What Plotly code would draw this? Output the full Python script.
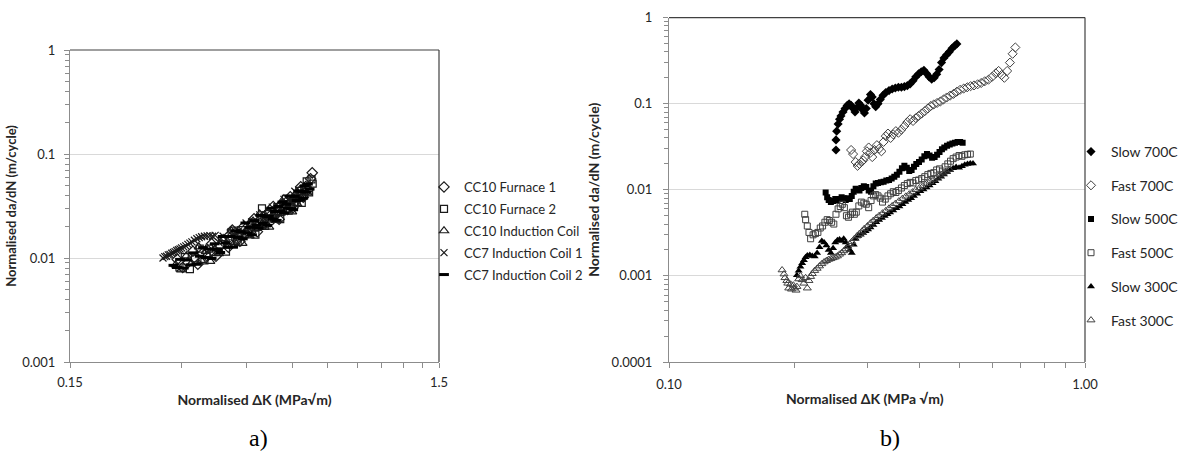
import math
import plotly.graph_objects as go

# ---------------- Panel a) data ----------------
a_names = ["CC10 Furnace 1", "CC10 Furnace 2", "CC10 Induction Coil",
           "CC7 Induction Coil 1", "CC7 Induction Coil 2"]

a_f1_x = [0.293, 0.303, 0.313, 0.323, 0.333, 0.343, 0.353, 0.363, 0.373, 0.383, 0.393, 0.403, 0.413,
          0.423, 0.433, 0.443, 0.453, 0.463, 0.473, 0.483, 0.493, 0.503, 0.513, 0.523, 0.533, 0.543,
          0.553, 0.563, 0.573, 0.583, 0.593, 0.603, 0.613, 0.623, 0.633, 0.643, 0.653, 0.663, 0.673,
          0.680]
a_f1_y = [0.0097, 0.0081, 0.0090, 0.0116, 0.0087, 0.0111, 0.0104, 0.0137, 0.0104, 0.0131, 0.0149, 0.0127,
          0.0186, 0.0151, 0.0145, 0.0200, 0.0182, 0.0178, 0.0238, 0.0179, 0.0233, 0.0216, 0.0266, 0.0223,
          0.0312, 0.0261, 0.0236, 0.0326, 0.0309, 0.0293, 0.0388, 0.0304, 0.0385, 0.0375, 0.0483, 0.0384,
          0.0487, 0.0455, 0.0579, 0.0659]

a_f2_x = [0.297, 0.307, 0.317, 0.327, 0.337, 0.347, 0.357, 0.367, 0.377, 0.387, 0.397, 0.407, 0.417,
          0.427, 0.437, 0.447, 0.457, 0.467, 0.477, 0.487, 0.497, 0.507, 0.517, 0.527, 0.537, 0.547,
          0.557, 0.567, 0.577, 0.587, 0.597, 0.607, 0.617, 0.627, 0.637, 0.647, 0.657, 0.667, 0.677,
          0.682]
a_f2_y = [0.0081, 0.0102, 0.0078, 0.0099, 0.0123, 0.0095, 0.0123, 0.0114, 0.0116, 0.0149, 0.0115, 0.0147,
          0.0183, 0.0142, 0.0185, 0.0170, 0.0172, 0.0220, 0.0168, 0.0214, 0.0300, 0.0204, 0.0264, 0.0241,
          0.0244, 0.0309, 0.0236, 0.0301, 0.0371, 0.0285, 0.0370, 0.0342, 0.0347, 0.0442, 0.0339, 0.0436,
          0.0545, 0.0427, 0.0570, 0.0518]

a_ic_x = [0.290, 0.300, 0.310, 0.320, 0.335, 0.340, 0.350, 0.360, 0.370, 0.380, 0.390, 0.400, 0.410,
          0.420, 0.430, 0.440, 0.450, 0.460, 0.470, 0.480, 0.490, 0.500, 0.510, 0.520, 0.530, 0.540,
          0.550, 0.560, 0.570, 0.580, 0.590, 0.600, 0.610, 0.620, 0.630, 0.640, 0.650, 0.660]
a_ic_y = [0.0086, 0.0077, 0.0105, 0.0089, 0.0128, 0.0095, 0.0116, 0.0093, 0.0122, 0.0110, 0.0154, 0.0132,
          0.0182, 0.0141, 0.0173, 0.0138, 0.0181, 0.0163, 0.0227, 0.0193, 0.0265, 0.0204, 0.0249, 0.0198,
          0.0257, 0.0230, 0.0319, 0.0272, 0.0372, 0.0286, 0.0350, 0.0278, 0.0365, 0.0329, 0.0456, 0.0391,
          0.0443, 0.0423]

a_c1_x = [0.268, 0.271, 0.274, 0.277, 0.280, 0.283, 0.286, 0.289, 0.292, 0.295, 0.298, 0.301, 0.305,
          0.309, 0.313, 0.317, 0.321, 0.326, 0.331, 0.336, 0.341, 0.347, 0.353, 0.359, 0.365, 0.371,
          0.380, 0.390, 0.400, 0.410, 0.420, 0.430, 0.440, 0.450, 0.460, 0.470, 0.480, 0.490, 0.500,
          0.510, 0.520, 0.530, 0.540, 0.550, 0.560, 0.570, 0.580, 0.590, 0.600, 0.610, 0.620, 0.630,
          0.640]
a_c1_y = [0.0100, 0.0103, 0.0104, 0.0107, 0.0108, 0.0111, 0.0113, 0.0115, 0.0118, 0.0120, 0.0122, 0.0125,
          0.0128, 0.0131, 0.0135, 0.0139, 0.0143, 0.0148, 0.0153, 0.0157, 0.0160, 0.0162, 0.0163, 0.0164,
          0.0162, 0.0165, 0.0141, 0.0162, 0.0135, 0.0179, 0.0157, 0.0182, 0.0164, 0.0217, 0.0190, 0.0219,
          0.0198, 0.0260, 0.0227, 0.0261, 0.0235, 0.0308, 0.0268, 0.0308, 0.0277, 0.0366, 0.0318, 0.0366,
          0.0331, 0.0438, 0.0382, 0.0440, 0.0399]

a_c2_x = [0.286, 0.292, 0.298, 0.305, 0.311, 0.318, 0.324, 0.331, 0.337, 0.344, 0.350, 0.357, 0.363,
          0.370, 0.376, 0.383, 0.389, 0.396, 0.402, 0.409, 0.415, 0.422, 0.428, 0.435, 0.441, 0.448,
          0.454, 0.461, 0.467, 0.474, 0.480, 0.487, 0.493, 0.500, 0.506, 0.513, 0.519, 0.526, 0.532,
          0.539, 0.545, 0.552, 0.558, 0.565, 0.571, 0.578, 0.584, 0.591, 0.597, 0.604, 0.610, 0.617,
          0.623, 0.630, 0.636, 0.643, 0.649, 0.656, 0.662, 0.669]
a_c2_y = [0.0085, 0.0081, 0.0097, 0.0080, 0.0096, 0.0086, 0.0112, 0.0087, 0.0104, 0.0126, 0.0101, 0.0122,
          0.0099, 0.0137, 0.0121, 0.0113, 0.0161, 0.0140, 0.0127, 0.0161, 0.0127, 0.0183, 0.0158, 0.0179,
          0.0153, 0.0217, 0.0174, 0.0197, 0.0167, 0.0229, 0.0206, 0.0193, 0.0257, 0.0216, 0.0252, 0.0206,
          0.0251, 0.0301, 0.0236, 0.0280, 0.0230, 0.0313, 0.0281, 0.0346, 0.0272, 0.0328, 0.0301, 0.0394,
          0.0299, 0.0291, 0.0391, 0.0358, 0.0441, 0.0360, 0.0437, 0.0376, 0.0494, 0.0431, 0.0514, 0.0460]

# ---------------- Panel b) data ----------------
b_names = ["Slow 700C", "Fast 700C", "Slow 500C", "Fast 500C", "Slow 300C", "Fast 300C"]

s700_x = [0.252, 0.252, 0.253, 0.255, 0.257, 0.259, 0.262, 0.265, 0.268, 0.271, 0.274, 0.277, 0.280,
          0.283, 0.286, 0.289, 0.292, 0.295, 0.298, 0.301, 0.305, 0.308, 0.311, 0.314, 0.318, 0.322,
          0.327, 0.332, 0.338, 0.344, 0.350, 0.356, 0.362, 0.368, 0.374, 0.380, 0.386, 0.392, 0.398,
          0.404, 0.410, 0.416, 0.422, 0.428, 0.434, 0.440, 0.446, 0.452, 0.458, 0.465, 0.472, 0.479,
          0.486, 0.492]
s700_y = [0.029, 0.038, 0.048, 0.058, 0.066, 0.072, 0.080, 0.088, 0.095, 0.100, 0.096, 0.088, 0.080,
          0.090, 0.102, 0.096, 0.085, 0.078, 0.088, 0.110, 0.128, 0.120, 0.100, 0.092, 0.100, 0.112,
          0.125, 0.135, 0.142, 0.148, 0.152, 0.155, 0.155, 0.158, 0.162, 0.170, 0.185, 0.205, 0.222,
          0.235, 0.245, 0.225, 0.205, 0.192, 0.200, 0.220, 0.250, 0.300, 0.340, 0.370, 0.400, 0.440,
          0.470, 0.495]

f700_x = [0.274, 0.277, 0.281, 0.284, 0.287, 0.290, 0.293, 0.296, 0.299, 0.302, 0.305, 0.308, 0.312,
          0.316, 0.320, 0.324, 0.328, 0.332, 0.336, 0.341, 0.346, 0.351, 0.356, 0.362, 0.368, 0.374,
          0.380, 0.386, 0.392, 0.398, 0.405, 0.412, 0.419, 0.426, 0.433, 0.441, 0.449, 0.457, 0.465,
          0.474, 0.483, 0.492, 0.501, 0.511, 0.521, 0.531, 0.541, 0.552, 0.563, 0.574, 0.586, 0.598,
          0.610, 0.620, 0.630, 0.640, 0.650, 0.660, 0.670, 0.680]
f700_y = [0.029, 0.026, 0.021, 0.019, 0.020, 0.021, 0.022, 0.024, 0.028, 0.031, 0.027, 0.024, 0.029,
          0.033, 0.030, 0.028, 0.036, 0.042, 0.045, 0.040, 0.044, 0.048, 0.046, 0.050, 0.055, 0.061,
          0.066, 0.063, 0.068, 0.072, 0.077, 0.082, 0.088, 0.094, 0.098, 0.102, 0.106, 0.112, 0.118,
          0.124, 0.130, 0.138, 0.145, 0.150, 0.155, 0.160, 0.163, 0.168, 0.174, 0.182, 0.190, 0.205,
          0.225, 0.240, 0.215, 0.200, 0.240, 0.300, 0.380, 0.450]

s500_x = [0.238, 0.240, 0.242, 0.245, 0.248, 0.251, 0.254, 0.257, 0.260, 0.263, 0.266, 0.269, 0.272,
          0.275, 0.278, 0.281, 0.284, 0.287, 0.290, 0.294, 0.298, 0.302, 0.306, 0.310, 0.314, 0.318,
          0.323, 0.328, 0.333, 0.338, 0.343, 0.348, 0.353, 0.358, 0.363, 0.368, 0.373, 0.378, 0.383,
          0.388, 0.393, 0.399, 0.405, 0.411, 0.417, 0.423, 0.429, 0.435, 0.441, 0.447, 0.453, 0.459,
          0.466, 0.473, 0.480, 0.487, 0.494, 0.501, 0.508]
s500_y = [0.0093, 0.0082, 0.0076, 0.0072, 0.0074, 0.0078, 0.0075, 0.0078, 0.0082, 0.0080, 0.0076, 0.0080,
          0.0078, 0.0085, 0.0095, 0.0103, 0.0100, 0.0098, 0.0105, 0.0110, 0.0108, 0.0098, 0.0095, 0.0110,
          0.0118, 0.0120, 0.0122, 0.0124, 0.0128, 0.0130, 0.0135, 0.0142, 0.0150, 0.0162, 0.0178, 0.0190,
          0.0180, 0.0165, 0.0170, 0.0185, 0.0200, 0.0210, 0.0225, 0.0245, 0.0260, 0.0250, 0.0235, 0.0240,
          0.0255, 0.0275, 0.0295, 0.0310, 0.0325, 0.0335, 0.0345, 0.0352, 0.0358, 0.0358, 0.0352]

f500_x = [0.212, 0.213, 0.215, 0.217, 0.219, 0.222, 0.225, 0.228, 0.231, 0.234, 0.237, 0.240, 0.243,
          0.246, 0.249, 0.252, 0.255, 0.258, 0.261, 0.264, 0.267, 0.270, 0.273, 0.276, 0.279, 0.282,
          0.286, 0.290, 0.294, 0.298, 0.302, 0.306, 0.310, 0.314, 0.318, 0.322, 0.326, 0.331, 0.336,
          0.341, 0.346, 0.351, 0.356, 0.362, 0.368, 0.374, 0.380, 0.386, 0.392, 0.398, 0.405, 0.412,
          0.419, 0.426, 0.433, 0.440, 0.447, 0.454, 0.461, 0.468, 0.475, 0.482, 0.490, 0.498, 0.506,
          0.514, 0.522, 0.530]
f500_y = [0.0052, 0.0045, 0.0038, 0.0032, 0.0027, 0.0030, 0.0031, 0.0032, 0.0036, 0.0038, 0.0042, 0.0045,
          0.0044, 0.0042, 0.0040, 0.0052, 0.0060, 0.0064, 0.0068, 0.0062, 0.0050, 0.0048, 0.0052, 0.0055,
          0.0052, 0.0055, 0.0065, 0.0072, 0.0070, 0.0068, 0.0062, 0.0075, 0.0085, 0.0088, 0.0085, 0.0080,
          0.0072, 0.0078, 0.0085, 0.0090, 0.0095, 0.0093, 0.0098, 0.0105, 0.0112, 0.0118, 0.0122, 0.0120,
          0.0128, 0.0130, 0.0135, 0.0142, 0.0150, 0.0155, 0.0158, 0.0170, 0.0175, 0.0165, 0.0185, 0.0200,
          0.0215, 0.0230, 0.0240, 0.0250, 0.0245, 0.0255, 0.0258, 0.0260]

s300_x = [0.203, 0.205, 0.207, 0.209, 0.211, 0.213, 0.215, 0.218, 0.221, 0.224, 0.227, 0.230, 0.233,
          0.236, 0.239, 0.242, 0.245, 0.248, 0.251, 0.254, 0.257, 0.260, 0.263, 0.266, 0.269, 0.272,
          0.275, 0.278, 0.281, 0.285, 0.289, 0.293, 0.297, 0.301, 0.305, 0.310, 0.315, 0.320, 0.325,
          0.330, 0.335, 0.340, 0.346, 0.352, 0.358, 0.364, 0.370, 0.376, 0.382, 0.388, 0.395, 0.402,
          0.409, 0.416, 0.423, 0.430, 0.437, 0.444, 0.451, 0.458, 0.466, 0.474, 0.482, 0.490, 0.498,
          0.506, 0.514, 0.522, 0.530, 0.538]
s300_y = [0.00102, 0.00115, 0.00128, 0.00140, 0.00152, 0.00165, 0.00172, 0.00175, 0.00170, 0.00168,
          0.00185, 0.00215, 0.00255, 0.00245, 0.00225, 0.00200, 0.00185, 0.00210, 0.00245, 0.00260,
          0.00265, 0.00255, 0.00270, 0.00245, 0.00220, 0.00200, 0.00185, 0.00230, 0.00270, 0.00290,
          0.00300, 0.00315, 0.00330, 0.00345, 0.00365, 0.00390, 0.00420, 0.00445, 0.00470, 0.00495,
          0.00520, 0.00545, 0.00575, 0.00610, 0.00640, 0.00680, 0.00720, 0.00760, 0.00800, 0.00850,
          0.00900, 0.00960, 0.01010, 0.01060, 0.01120, 0.01190, 0.01260, 0.01340, 0.01420, 0.01510,
          0.01600, 0.01690, 0.01780, 0.01840, 0.01800, 0.01880, 0.01950, 0.02000, 0.02020, 0.02020]

f300_x = [0.187, 0.189, 0.190, 0.192, 0.193, 0.194, 0.196, 0.197, 0.199, 0.200, 0.202, 0.203, 0.205,
          0.207, 0.209, 0.211, 0.213, 0.215, 0.217, 0.219, 0.221, 0.224, 0.227, 0.230, 0.233, 0.236,
          0.239, 0.242, 0.245, 0.248, 0.251, 0.254, 0.257, 0.260, 0.263, 0.266, 0.269, 0.272, 0.275,
          0.279, 0.283, 0.287, 0.291, 0.295, 0.300, 0.305, 0.310, 0.315, 0.320, 0.326, 0.332, 0.338,
          0.344, 0.350, 0.357, 0.364, 0.371, 0.378, 0.385, 0.392, 0.400, 0.408, 0.416, 0.424, 0.432,
          0.440, 0.448, 0.456, 0.464, 0.472]
f300_y = [0.00117, 0.00105, 0.00095, 0.00088, 0.00082, 0.00072, 0.00080, 0.00070, 0.00078, 0.00072,
          0.00068, 0.00075, 0.00092, 0.00100, 0.00090, 0.00082, 0.00095, 0.00072, 0.00088, 0.00098,
          0.00106, 0.00115, 0.00122, 0.00130, 0.00138, 0.00145, 0.00150, 0.00155, 0.00158, 0.00162,
          0.00165, 0.00170, 0.00178, 0.00185, 0.00195, 0.00205, 0.00220, 0.00235, 0.00250, 0.00270,
          0.00290, 0.00310, 0.00330, 0.00355, 0.00380, 0.00410, 0.00440, 0.00470, 0.00500, 0.00535,
          0.00570, 0.00610, 0.00650, 0.00690, 0.00740, 0.00790, 0.00840, 0.00890, 0.00940, 0.01000,
          0.01050, 0.01110, 0.01180, 0.01250, 0.01320, 0.01400, 0.01480, 0.01560, 0.01640, 0.01720]

# tick labels
a_xticks = [0.15, 1.5]
a_xticktext = ["0.15", "1.5"]
a_yticks = [0.001, 0.01, 0.1, 1]
a_yticktext = ["0.001", "0.01", "0.1", "1"]
b_xticks = [0.1, 1.0]
b_xticktext = ["0.10", "1.00"]
b_yticks = [0.0001, 0.001, 0.01, 0.1, 1]
b_yticktext = ["0.0001", "0.001", "0.01", "0.1", "1"]

# ---------------- Figure ----------------
W, H = 1184, 459
FONT = "Lato, 'Open Sans', 'Liberation Sans', sans-serif"
AXC = "#8c8c8c"
TXT = "#262626"


def px_x(p):
    return p / W


def px_y(p):
    return 1 - p / H


fig = go.Figure()

OC = "#1a1a1a"
a_series = [
    (a_f1_x, a_f1_y, dict(symbol="diamond-open", size=8, color=OC, line=dict(width=1.2, color=OC))),
    (a_f2_x, a_f2_y, dict(symbol="square-open", size=7, color=OC, line=dict(width=1.2, color=OC))),
    (a_ic_x, a_ic_y, dict(symbol="triangle-up-open", size=8, color=OC, line=dict(width=1.2, color=OC))),
    (a_c1_x, a_c1_y, dict(symbol="x-thin-open", size=7, color=OC, line=dict(width=1.2, color=OC))),
    (a_c2_x, a_c2_y, dict(symbol="line-ew", size=7, color="black", line=dict(width=3, color="black"))),
]
for i, (xs, ys, mk) in enumerate(a_series):
    fig.add_trace(go.Scatter(x=xs, y=ys, mode="markers", name=a_names[i], marker=mk,
                             xaxis="x", yaxis="y", legend="legend", legendgroup="a%d" % i))

b_series = [
    (s700_x, s700_y, dict(symbol="diamond", size=7, color="black")),
    (f700_x, f700_y, dict(symbol="diamond-open", size=7, color="#404040", line=dict(width=1, color="#404040"))),
    (s500_x, s500_y, dict(symbol="square", size=6, color="black")),
    (f500_x, f500_y, dict(symbol="square-open", size=6, color="#404040", line=dict(width=1, color="#404040"))),
    (s300_x, s300_y, dict(symbol="triangle-up", size=7, color="black")),
    (f300_x, f300_y, dict(symbol="triangle-up-open", size=7, color="#404040", line=dict(width=1, color="#404040"))),
]
for i, (xs, ys, mk) in enumerate(b_series):
    fig.add_trace(go.Scatter(x=xs, y=ys, mode="markers", name=b_names[i], marker=mk,
                             xaxis="x2", yaxis="y2", legend="legend2", legendgroup="b%d" % i))


def minor_vals(lo_exp, hi_exp):
    vals = []
    for e in range(lo_exp, hi_exp):
        for m in range(2, 10):
            vals.append(m * 10 ** e)
    return vals


common_axis = dict(type="log", showline=True, linecolor=AXC, linewidth=1, ticks="outside",
                   ticklen=5, tickcolor=AXC, tickfont=dict(family=FONT, size=13, color=TXT),
                   zeroline=False, fixedrange=True, automargin=False)

fig.update_layout(
    width=W, height=H,
    margin=dict(l=0, r=0, t=0, b=0, autoexpand=False),
    paper_bgcolor="white", plot_bgcolor="white",
    font=dict(family=FONT, color=TXT),
    xaxis=dict(common_axis, domain=[px_x(70), px_x(439)], anchor="y",
               range=[math.log10(0.15), math.log10(1.5)],
               tickmode="array", tickvals=a_xticks, ticktext=a_xticktext, showgrid=False,
               ticklabelstandoff=3,
               minor=dict(tickmode="array", tickvals=[0.3, 0.45, 0.6, 0.75, 0.9, 1.05, 1.2, 1.35],
                          ticks="outside", ticklen=5, tickcolor=AXC, showgrid=False),
               title=dict(text="<b>Normalised ΔK (MPa√m)</b>", font=dict(family=FONT, size=14, color=TXT),
                          standoff=6)),
    yaxis=dict(common_axis, domain=[px_y(362), px_y(50)], anchor="x",
               range=[-3, 0], tickmode="array", tickvals=a_yticks, ticktext=a_yticktext,
               showgrid=True, gridcolor="#d9d9d9", gridwidth=1, ticklabelstandoff=6,
               minor=dict(tickmode="array", tickvals=minor_vals(-3, 0), ticks="outside",
                          ticklen=4, tickcolor=AXC, showgrid=False),
               title=dict(text="<b>Normalised da/dN (m/cycle)</b>", font=dict(family=FONT, size=13, color=TXT),
                          standoff=2)),
    xaxis2=dict(common_axis, domain=[px_x(669), px_x(1085)], anchor="y2",
                range=[-1, 0], tickmode="array", tickvals=b_xticks, ticktext=b_xticktext, showgrid=False,
                ticklabelstandoff=5,
                minor=dict(tickmode="array", tickvals=[0.2, 0.3, 0.4, 0.5, 0.6, 0.7, 0.8, 0.9],
                           ticks="outside", ticklen=5, tickcolor=AXC, showgrid=False)),
    yaxis2=dict(common_axis, domain=[px_y(362), px_y(17.6)], anchor="x2",
                range=[-4, 0], tickmode="array", tickvals=b_yticks, ticktext=b_yticktext,
                showgrid=True, gridcolor="#d9d9d9", gridwidth=1, ticklabelstandoff=8,
                minor=dict(tickmode="array", tickvals=minor_vals(-4, 0), ticks="outside",
                           ticklen=4, tickcolor=AXC, showgrid=False),
                title=dict(text="<b>Normalised da/dN (m/cycle)</b>", font=dict(family=FONT, size=14, color=TXT),
                           standoff=8)),
    legend=dict(x=px_x(424), y=px_y(172), xanchor="left", yanchor="top",
                font=dict(family=FONT, size=13, color=TXT), bgcolor="rgba(0,0,0,0)",
                traceorder="grouped", tracegroupgap=2, itemwidth=30, borderwidth=0),
    legend2=dict(x=px_x(1071), y=px_y(136), xanchor="left", yanchor="top",
                 font=dict(family=FONT, size=14, color=TXT), bgcolor="rgba(0,0,0,0)",
                 traceorder="grouped", tracegroupgap=12.5, itemwidth=30, borderwidth=0),
    showlegend=True,
)

# x-axis title of panel b (centred on the chart area, slightly left of the plot centre)
fig.add_annotation(x=px_x(865), y=px_y(398), xref="paper", yref="paper",
                   text="<b>Normalised ΔK (MPa √m)</b>", showarrow=False,
                   xanchor="center", yanchor="middle", font=dict(family=FONT, size=14, color=TXT))

# dark top & right frame lines
for xa, ya in (("x", "y"), ("x2", "y2")):
    fig.add_shape(type="line", xref=xa + " domain", yref=ya + " domain", x0=0, x1=1, y0=1, y1=1,
                  line=dict(color="#404040", width=1.2))
    fig.add_shape(type="line", xref=xa + " domain", yref=ya + " domain", x0=1, x1=1, y0=0, y1=1,
                  line=dict(color="#404040", width=1.2))

# captions
fig.add_annotation(x=px_x(258), y=px_y(438), xref="paper", yref="paper", text="a)", showarrow=False,
                   xanchor="center", yanchor="middle",
                   font=dict(family="Liberation Serif, serif", size=24, color="black"))
fig.add_annotation(x=px_x(890), y=px_y(438), xref="paper", yref="paper", text="b)", showarrow=False,
                   xanchor="center", yanchor="middle",
                   font=dict(family="Liberation Serif, serif", size=24, color="black"))

fig.write_html("out.html", config={"displayModeBar": False, "staticPlot": True},
               post_script="document.body.style.margin='0px';document.body.style.overflow='hidden';")
